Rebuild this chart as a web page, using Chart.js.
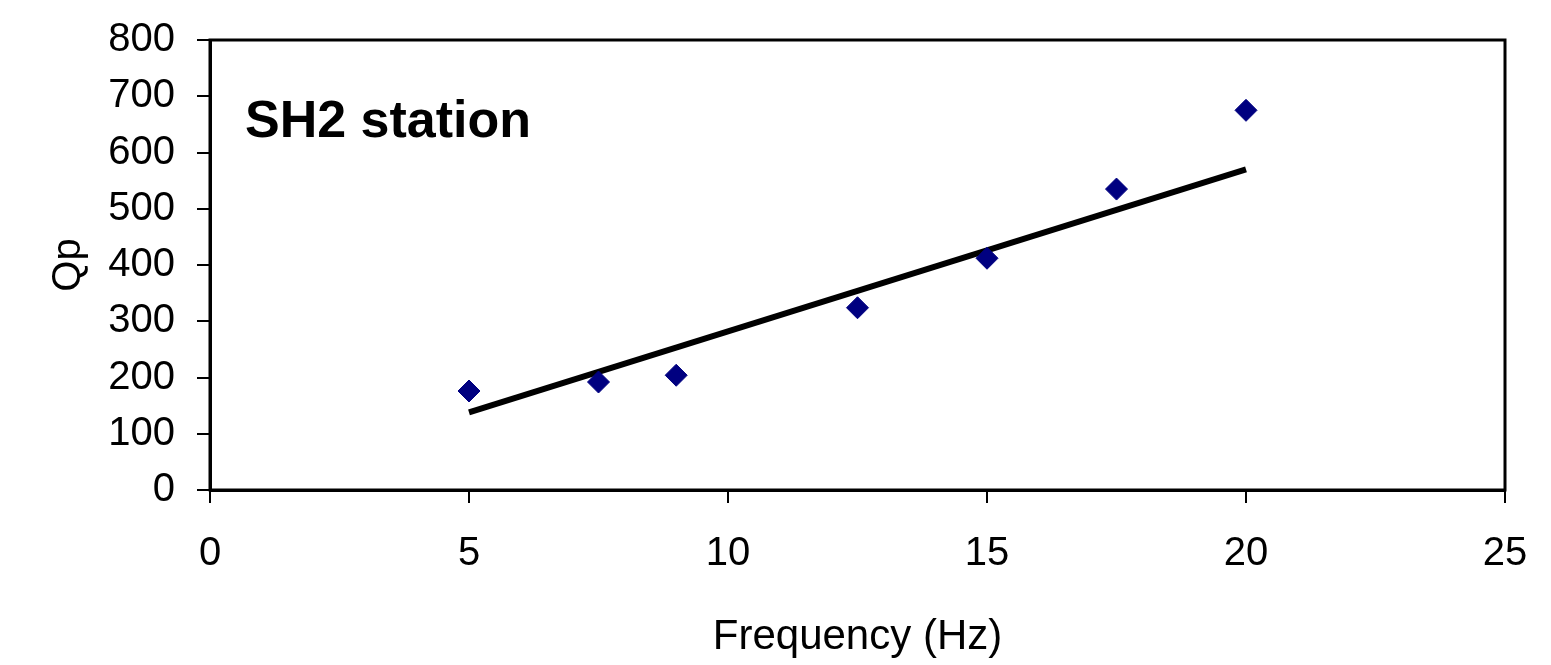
<!DOCTYPE html>
<html>
<head>
<meta charset="utf-8">
<script src="https://cdn.jsdelivr.net/npm/chart.js@4.4.1/dist/chart.umd.min.js"></script>
<style>
html,body{margin:0;padding:0;background:#fff;}
#wrap{width:1551px;height:665px;}
</style>
</head>
<body>
<div id="wrap"><canvas id="c" width="1551" height="665"></canvas></div>
<script>
const frequencies = [5, 7.5, 9, 12.5, 15, 17.5, 20];
const qpValues = [176, 192, 204, 324, 412, 535, 675];
const trendFrequencies = [5, 20];
const trendValues = [138, 570];
const xTicks = [0, 5, 10, 15, 20, 25];
const yTicks = [0, 100, 200, 300, 400, 500, 600, 700, 800];
const stationLabel = 'SH2 station';
const xTitle = 'Frequency (Hz)';
const yTitle = 'Qp';

const FONT = '"Liberation Sans", Arial, sans-serif';

const framePlugin = {
  id: 'frame',
  afterDatasetsDraw(chart) {
    const {ctx, chartArea: a} = chart;
    ctx.save();
    ctx.strokeStyle = '#000';
    ctx.lineWidth = 3;
    ctx.strokeRect(a.left, a.top, a.right - a.left, a.bottom - a.top);
    ctx.fillStyle = '#000';
    ctx.font = 'bold 52px ' + FONT;
    ctx.textBaseline = 'alphabetic';
    ctx.textAlign = 'left';
    ctx.fillText(stationLabel, a.left + 35, a.top + 97);
    ctx.restore();
  }
};

new Chart(document.getElementById('c'), {
  type: 'scatter',
  data: {
    datasets: [
      {
        type: 'line',
        label: 'trend',
        data: trendFrequencies.map((x, i) => ({x, y: trendValues[i]})),
        borderColor: '#000',
        borderWidth: 6,
        pointRadius: 0,
        fill: false,
        order: 2
      },
      {
        label: 'Qp',
        data: frequencies.map((x, i) => ({x, y: qpValues[i]})),
        backgroundColor: '#000080',
        borderColor: '#000080',
        borderWidth: 1,
        pointStyle: 'rectRot',
        pointRadius: 11,
        order: 1
      }
    ]
  },
  options: {
    responsive: false,
    animation: false,
    devicePixelRatio: 1,
    layout: {padding: {left: 0, top: 40, right: 46, bottom: 0}},
    plugins: {legend: {display: false}, tooltip: {enabled: false}},
    scales: {
      x: {
        type: 'linear',
        min: 0, max: 25,
        afterBuildTicks: (s) => { s.ticks = xTicks.map(v => ({value: v})); },
        afterFit: (s) => { s.height = 175; s.paddingLeft = 0; s.paddingRight = 0; },
        ticks: {color: '#000', font: {family: FONT, size: 40}, padding: 27},
        grid: {drawOnChartArea: false, color: '#000', lineWidth: 2, tickLength: 13},
        border: {color: '#000', width: 3},
        title: {display: true, text: xTitle, color: '#000', font: {family: FONT, size: 42}, padding: {top: 0, bottom: 2}}
      },
      y: {
        type: 'linear',
        min: 0, max: 800,
        afterBuildTicks: (s) => { s.ticks = yTicks.map(v => ({value: v})); },
        afterFit: (s) => { s.width = 210; s.paddingTop = 0; s.paddingBottom = 0; },
        ticks: {color: '#000', font: {family: FONT, size: 40}, padding: 22},
        grid: {drawOnChartArea: false, color: '#000', lineWidth: 2, tickLength: 13},
        border: {color: '#000', width: 3},
        title: {display: true, text: yTitle, color: '#000', font: {family: FONT, size: 40}, padding: {top: 45, bottom: 0}}
      }
    }
  },
  plugins: [framePlugin]
});
</script>
</body>
</html>
